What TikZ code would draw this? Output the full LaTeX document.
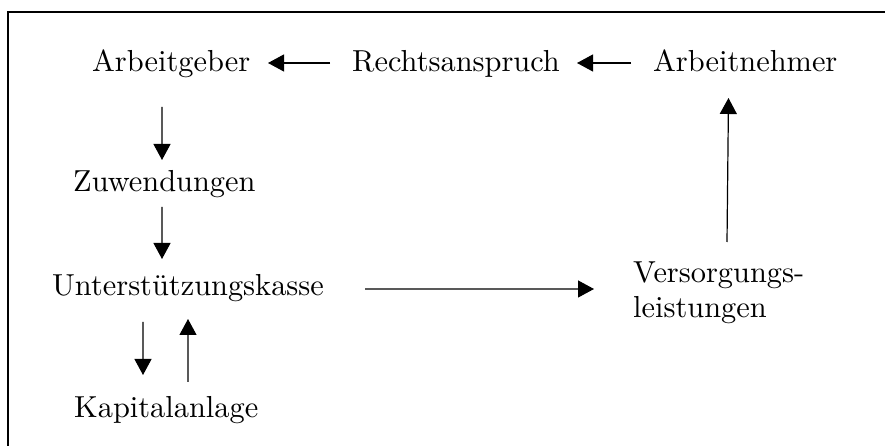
\documentclass[tikz,border=0pt]{standalone}
\usetikzlibrary{arrows.meta}
% 10pt design size, enlarged about threefold
\newcommand{\lblbox}[1]{\scalebox{3.05}{\fontsize{10}{11.5}\selectfont #1}}
\begin{document}
\begin{tikzpicture}[x=1bp,y=-1bp,
  lbl/.style={anchor=base west,inner sep=0pt},
  flow/.style={line width=1.2bp,-{Triangle[length=16bp,width=17bp]}}]
\useasboundingbox (0,0) rectangle (885,446);
% frame
\draw[line width=1.2bp] (8,446) -- (8,12) -- (885,12);
% labels
\node[lbl] (arbg)  at (92,72)  {\lblbox{Arbeitgeber}};
\node[lbl] (recht) at (352,72) {\lblbox{Rechtsanspruch}};
\node[lbl] (arbn)  at (653,72) {\lblbox{Arbeitnehmer}};
\node[lbl] (zuw)   at (73,192) {\lblbox{Zuwendungen}};
\node[lbl] (uk)    at (52,296) {\lblbox{Unterstützungskasse}};
\node[lbl] (kap)   at (74,417) {\lblbox{Kapitalanlage}};
\node[lbl] (vers)  at (633,283) {\lblbox{\begin{tabular}[t]{@{}l@{}}Versorgungs-\\leistungen\end{tabular}}};
% connectors
\draw[flow] ([xshift=-22bp,yshift=9bp]recht.base west) -- ([xshift=176bp,yshift=9bp]arbg.base west);
\draw[flow] ([xshift=-22bp,yshift=9bp]arbn.base west) -- ([xshift=225bp,yshift=9bp]recht.base west);
\draw[flow] ([xshift=94bp,yshift=41bp]vers.base west) -- ([xshift=75.5bp,yshift=-26bp]arbn.base west);
\draw[flow] ([xshift=70bp,yshift=-35bp]arbg.base west) -- ([xshift=89bp,yshift=32bp]zuw.base west);
\draw[flow] ([xshift=89bp,yshift=-15bp]zuw.base west) -- ([xshift=110bp,yshift=37bp]uk.base west);
\draw[flow] ([xshift=313bp,yshift=7bp]uk.base west) -- ([xshift=-39bp,yshift=-6bp]vers.base west);
\draw[flow] ([xshift=91bp,yshift=-26bp]uk.base west) -- ([xshift=69bp,yshift=42bp]kap.base west);
\draw[flow] ([xshift=114bp,yshift=35bp]kap.base west) -- ([xshift=136bp,yshift=-23bp]uk.base west);
\end{tikzpicture}
\end{document}
